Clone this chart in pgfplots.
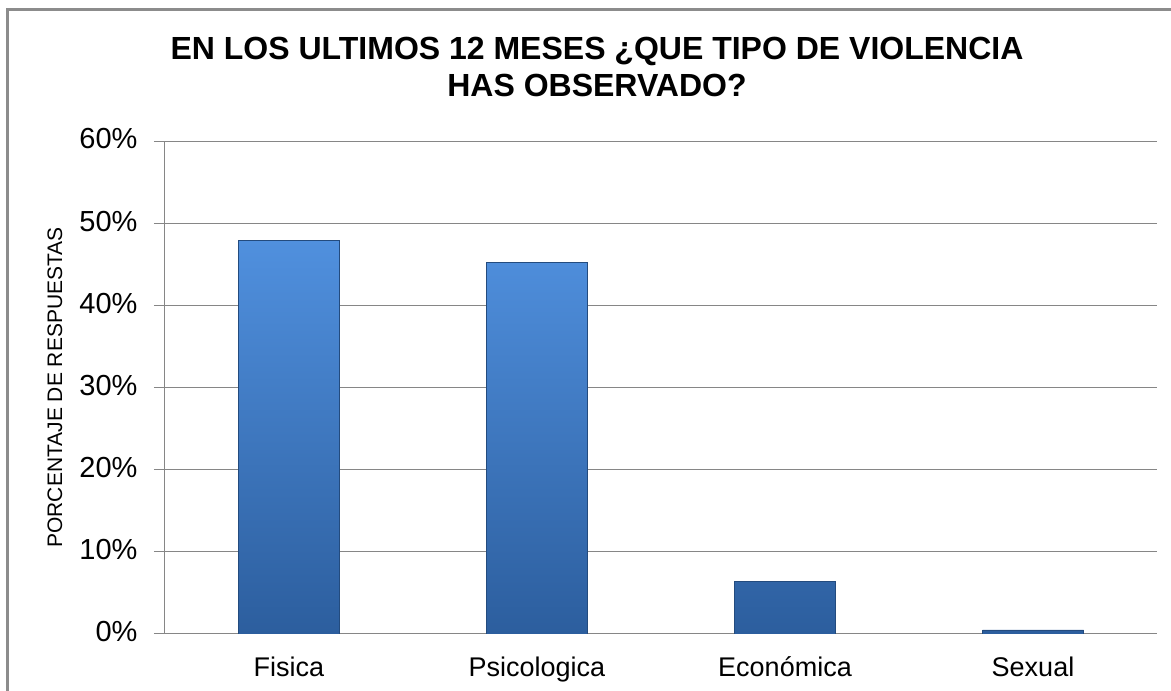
\documentclass[border=0pt]{standalone}
\usepackage{fontspec}
\setmainfont{Liberation Sans}
\usepackage{pgfplots}
\pgfplotsset{compat=1.18}

\definecolor{framegray}{RGB}{140,140,140}
\definecolor{gridgray}{RGB}{134,134,134}
\definecolor{bartop}{RGB}{80,144,222}
\definecolor{barbot}{RGB}{44,94,158}

\begin{document}
\begin{tikzpicture}[x=1pt,y=1pt]
  \useasboundingbox (0,0) rectangle (1171,691);
  \draw[framegray, line width=3pt] (7,-5) -- (7,681) -- (1180,681);
  \node[font=\fontsize{32}{38}\selectfont\bfseries, anchor=base] at (597,631)
    {EN LOS ULTIMOS 12 MESES ¿QUE TIPO DE VIOLENCIA};
  \node[font=\fontsize{32}{38}\selectfont\bfseries, anchor=base] at (597,594)
    {HAS OBSERVADO?};

  \begin{axis}[
    at={(165pt,57pt)}, anchor=south west,
    scale only axis, width=992pt, height=493pt,
    ymin=0, ymax=60, xmin=-0.5, xmax=3.5,
    ytick={0,10,...,60},
    xtick={0,1,2,3},
    xticklabels={Fisica,Psicologica,Económica,Sexual},
    ybar, bar width=101pt,
    axis x line*=bottom, axis y line*=left,
    axis line style={gridgray, line width=1pt},
    ymajorgrids, grid style={gridgray, line width=1pt},
    major tick length=11pt, tick align=outside,
    y tick style={gridgray, line width=1pt},
    x tick style={draw=none},
    /pgf/number format/assume math mode=true,
    yticklabel={\pgfmathprintnumber{\tick}\%},
    yticklabel style={font=\fontsize{29}{34}\selectfont, xshift=-13pt, yshift=2pt},
    xticklabel style={font=\fontsize{27}{30}\selectfont, text height=19pt, text depth=6pt, yshift=-9pt},
    ylabel={PORCENTAJE DE RESPUESTAS},
    ylabel style={font=\fontsize{21}{25}\selectfont, at={(axis description cs:-0.111,0.5)}, anchor=center},
  ]
    \addplot[top color=bartop, bottom color=barbot, draw=barbot!80!black, line width=0.6pt]
      coordinates {(0,47.9) (1,45.2) (2,6.4) (3,0.5)};
  \end{axis}
\end{tikzpicture}
\end{document}
